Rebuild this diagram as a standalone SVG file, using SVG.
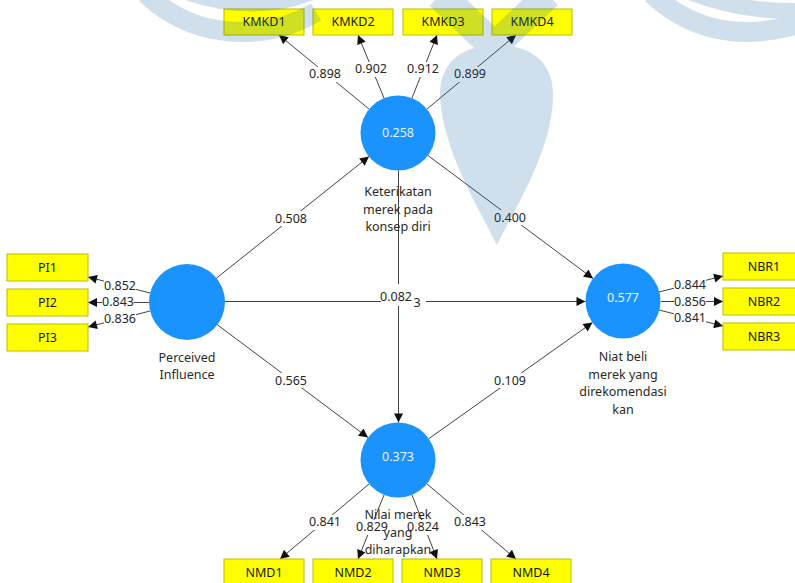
<svg xmlns="http://www.w3.org/2000/svg" width="795" height="583" viewBox="0 0 795 583">
<defs>
<marker id="ah" viewBox="0 0 10 10" refX="10" refY="5" markerWidth="10" markerHeight="9" markerUnits="userSpaceOnUse" orient="auto"><path d="M0,0 L10,5 L0,10 z" fill="#111"/></marker>
<style>
text{font-family:"Noto Sans","Open Sans","DejaVu Sans",sans-serif;font-size:12.5px;text-anchor:middle}
.ln{stroke:#444;stroke-width:1;fill:none;marker-end:url(#ah)}
.bg{fill:#fff}
.lb{fill:#262626}
.box{fill:#ffff00;stroke:#bcbc00;stroke-width:1}
.bt{fill:#1a1a1a}
.lv{fill:#1a93fe}
.lvt{fill:#e6f2ff}
.nm{fill:#2a2a2a}
</style>
</defs>
<rect width="795" height="583" fill="#fff"/>
<g id="connectors">
<line class="ln" x1="369" y1="109" x2="279" y2="35"/>
<line class="ln" x1="384" y1="98" x2="358" y2="35"/>
<line class="ln" x1="412" y1="98" x2="437" y2="35"/>
<line class="ln" x1="427" y1="109" x2="516" y2="35"/>
<line class="ln" x1="150" y1="293" x2="88" y2="277"/>
<line class="ln" x1="149" y1="302.5" x2="88" y2="302.5"/>
<line class="ln" x1="150" y1="311" x2="88" y2="327"/>
<line class="ln" x1="659" y1="292" x2="723" y2="276"/>
<line class="ln" x1="661" y1="301.5" x2="723" y2="301.5"/>
<line class="ln" x1="659" y1="310" x2="723" y2="326"/>
<line class="ln" x1="369" y1="484" x2="280" y2="559"/>
<line class="ln" x1="384" y1="495" x2="358" y2="559"/>
<line class="ln" x1="412" y1="495" x2="437" y2="559"/>
<line class="ln" x1="427" y1="484" x2="516" y2="559"/>
<line class="ln" x1="216" y1="278.5" x2="369" y2="156.5"/>
<line class="ln" x1="428" y1="155.5" x2="593" y2="278.5"/>
<line class="ln" x1="225" y1="301.5" x2="585.5" y2="301.5"/>
<line class="ln" x1="217" y1="324.5" x2="368" y2="437.5"/>
<line class="ln" x1="398.5" y1="170.5" x2="398.5" y2="422.5"/>
<line class="ln" x1="429" y1="438.5" x2="592.5" y2="322.5"/>
<g id="path-labels">
<rect class="bg" x="308" y="67" width="34" height="15"/><text class="lb" x="325" y="78">0.898</text>
<rect class="bg" x="354" y="62" width="34" height="15"/><text class="lb" x="371" y="73">0.902</text>
<rect class="bg" x="406" y="62" width="34" height="15"/><text class="lb" x="423" y="73">0.912</text>
<rect class="bg" x="453" y="67" width="34" height="15"/><text class="lb" x="470" y="78">0.899</text>
<rect class="bg" x="104" y="279" width="32" height="14"/><text class="lb" x="120" y="290">0.852</text>
<rect class="bg" x="102" y="295" width="32" height="14"/><text class="lb" x="118" y="306">0.843</text>
<rect class="bg" x="104" y="312" width="32" height="14"/><text class="lb" x="120" y="323">0.836</text>
<rect class="bg" x="674" y="278" width="32" height="14"/><text class="lb" x="690" y="289">0.844</text>
<rect class="bg" x="674" y="295" width="32" height="14"/><text class="lb" x="690" y="306">0.856</text>
<rect class="bg" x="674" y="311" width="32" height="14"/><text class="lb" x="690" y="322">0.841</text>
<rect class="bg" x="308" y="515" width="34" height="15"/><text class="lb" x="325" y="526">0.841</text>
<rect class="bg" x="355" y="520" width="34" height="15"/><text class="lb" x="372" y="531">0.829</text>
<rect class="bg" x="406" y="520" width="34" height="15"/><text class="lb" x="423" y="531">0.824</text>
<rect class="bg" x="453" y="515" width="34" height="15"/><text class="lb" x="470" y="526">0.843</text>
<rect class="bg" x="274" y="211" width="34" height="15"/><text class="lb" x="291" y="223">0.508</text>
<rect class="bg" x="493" y="210" width="34" height="15"/><text class="lb" x="510" y="222">0.400</text>
<rect class="bg" x="274" y="373" width="34" height="15"/><text class="lb" x="291" y="385">0.565</text>
<rect class="bg" x="493" y="373" width="34" height="15"/><text class="lb" x="510" y="385">0.109</text>
<rect class="bg" x="381" y="284" width="45" height="22"/><text class="lb" x="396" y="301">0.082</text><text class="lb" x="417" y="307">3</text>
</g>
</g>
<g id="KMKD1"><rect class="box" x="224" y="9" width="80" height="26"/><text class="bt" x="264" y="26">KMKD1</text></g>
<g id="KMKD2"><rect class="box" x="313" y="9" width="80" height="26"/><text class="bt" x="353" y="26">KMKD2</text></g>
<g id="KMKD3"><rect class="box" x="403" y="9" width="80" height="26"/><text class="bt" x="443" y="26">KMKD3</text></g>
<g id="KMKD4"><rect class="box" x="492" y="9" width="80" height="26"/><text class="bt" x="532" y="26">KMKD4</text></g>
<g id="PI1"><rect class="box" x="7" y="254" width="81" height="27"/><text class="bt" x="47.5" y="272">PI1</text></g>
<g id="PI2"><rect class="box" x="7" y="289" width="81" height="27"/><text class="bt" x="47.5" y="307">PI2</text></g>
<g id="PI3"><rect class="box" x="7" y="324" width="81" height="27"/><text class="bt" x="47.5" y="342">PI3</text></g>
<g id="NBR1"><rect class="box" x="723" y="253" width="80" height="27"/><text class="bt" x="764" y="271">NBR1</text></g>
<g id="NBR2"><rect class="box" x="723" y="288" width="80" height="27"/><text class="bt" x="764" y="306">NBR2</text></g>
<g id="NBR3"><rect class="box" x="723" y="323" width="80" height="27"/><text class="bt" x="764" y="341">NBR3</text></g>
<g id="NMD1"><rect class="box" x="224" y="559" width="80" height="26"/><text class="bt" x="264" y="577">NMD1</text></g>
<g id="NMD2"><rect class="box" x="313" y="559" width="80" height="26"/><text class="bt" x="353" y="577">NMD2</text></g>
<g id="NMD3"><rect class="box" x="402" y="559" width="80" height="26"/><text class="bt" x="442" y="577">NMD3</text></g>
<g id="NMD4"><rect class="box" x="491" y="559" width="80" height="26"/><text class="bt" x="531" y="577">NMD4</text></g>
<g id="KMKD"><circle class="lv" cx="398" cy="133" r="37.5"/><text class="lvt" x="398" y="137">0.258</text>
<text class="nm" x="398" y="196">Keterikatan</text><text class="nm" x="398" y="214">merek pada</text><text class="nm" x="398" y="231">konsep diri</text></g>
<g id="PI"><circle class="lv" cx="187" cy="302" r="38"/>
<text class="nm" x="187" y="362">Perceived</text><text class="nm" x="187" y="379">Influence</text></g>
<g id="NBR"><circle class="lv" cx="623" cy="301" r="37.5"/><text class="lvt" x="623" y="302">0.577</text>
<text class="nm" x="623" y="361">Niat beli</text><text class="nm" x="623" y="379">merek yang</text><text class="nm" x="623" y="396">direkomendasi</text><text class="nm" x="623" y="414">kan</text></g>
<g id="NMD"><circle class="lv" cx="398" cy="460" r="37.5"/><text class="lvt" x="398" y="461">0.373</text>
<text class="nm" x="398" y="519">Nilai merek</text><text class="nm" x="398" y="537">yang</text><text class="nm" x="398" y="554">diharapkan</text></g>
<g id="watermark" opacity="0.2">
<g fill="none" stroke="#1662a3">
<path d="M146,-6 C178,24 212,33 248,32 C275,31 296,24 316,12" stroke-width="20"/>
<path d="M186,-6 C215,4 245,8 275,4 C290,2 300,-1 312,-6" stroke-width="12"/>
<path d="M652,-6 C684,24 720,33 752,32 C770,31 785,28 800,24" stroke-width="20"/>
<path d="M690,-8 C720,4 755,12 800,11" stroke-width="16"/>
<path d="M440,-5 L500,52" stroke-width="30"/>
<path d="M548,-5 L488,52" stroke-width="28"/>
</g>
<path fill="#1662a3" d="M497,245 C480,210 442,150 440,95 C440,60 465,45 497,45 C529,45 553,60 553,95 C553,150 514,210 497,245 Z"/>
</g>
</svg>
